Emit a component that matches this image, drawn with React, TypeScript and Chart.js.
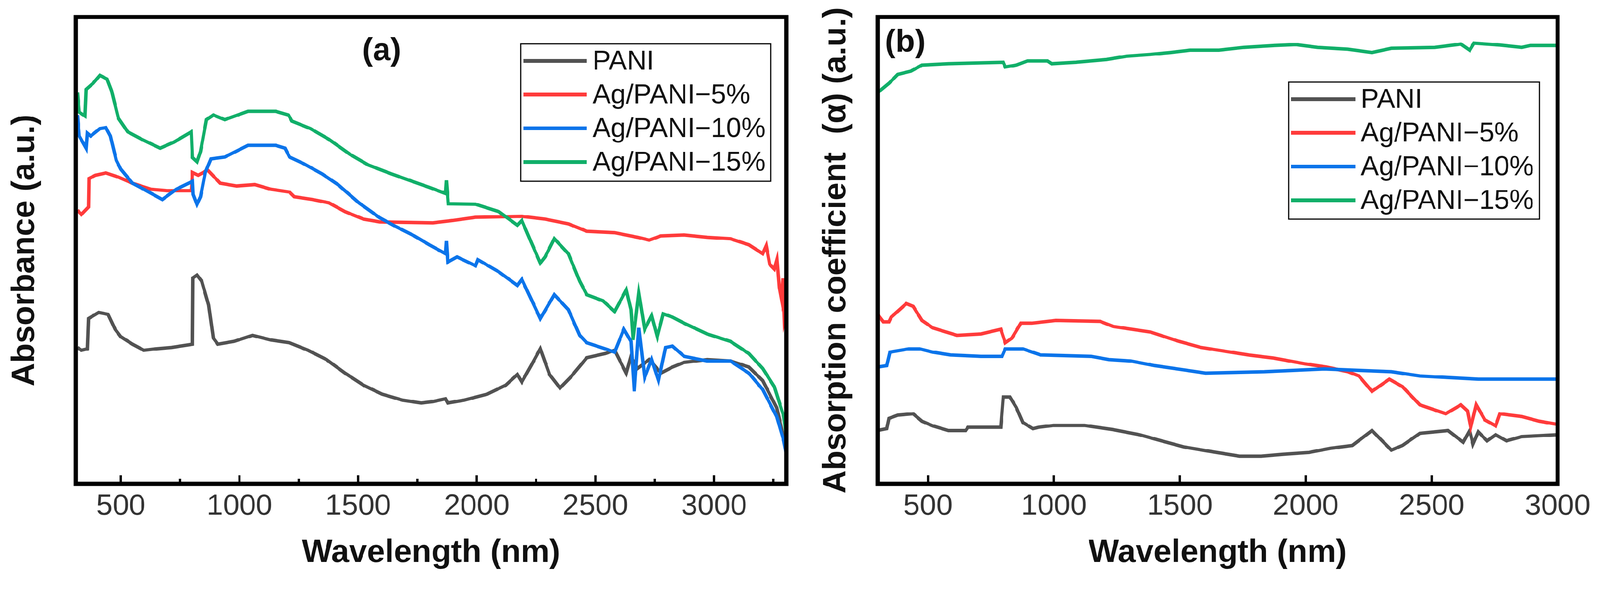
import { useEffect, useRef } from "react";
import { Chart, registerables } from "chart.js";

Chart.register(...registerables);

const PAGE_W = 4226;
const PAGE_H = 1539;

const SERIES_LABELS = ["PANI", "Ag/PANI\u22125%", "Ag/PANI\u221210%", "Ag/PANI\u221215%"];
const SERIES_COLORS = ["#525252", "#FF3B3B", "#0B74EA", "#11AF69"];

// ---- panel (a): absorbance ----
const A_PANI_X = [317, 334, 359, 364, 407, 446, 476, 500, 549, 597, 646, 714, 802, 804, 821, 841, 870, 890, 909, 977, 1055, 1133, 1211, 1289, 1367, 1445, 1523, 1601, 1688, 1766, 1815, 1868, 1878, 1946, 2044, 2122, 2171, 2190, 2229, 2268, 2307, 2351, 2395, 2464, 2542, 2581, 2630, 2650, 2678, 2727, 2776, 2825, 2874, 2971, 3069, 3147, 3205, 3264, 3294, 3305];
const A_PANI_Y = [29.2, 28.6, 28.9, 35.4, 36.7, 36.3, 33.1, 31.5, 29.9, 28.6, 28.9, 29.2, 29.9, 44.1, 44.7, 43.4, 38.3, 31.2, 29.9, 30.5, 31.8, 30.8, 30.2, 28.6, 26.6, 23.7, 21.1, 19.2, 17.9, 17.3, 17.6, 18.2, 17.3, 17.9, 19.2, 21.1, 23.4, 21.8, 25.3, 28.9, 23.4, 20.5, 22.8, 27.0, 27.9, 28.6, 23.7, 27.3, 24.7, 26.6, 23.7, 25.0, 26.0, 26.6, 26.3, 25.0, 22.1, 16.3, 10.0, 8.0];

const A_AG5_X = [317, 334, 364, 366, 393, 437, 490, 549, 627, 695, 797, 802, 826, 866, 919, 988, 1065, 1133, 1211, 1231, 1308, 1377, 1445, 1523, 1591, 1815, 1898, 1995, 2190, 2288, 2386, 2464, 2581, 2678, 2727, 2776, 2874, 2971, 3069, 3147, 3205, 3220, 3235, 3254, 3265, 3275, 3284, 3290, 3297, 3303, 3305];
const A_AG5_Y = [58.6, 57.7, 59.3, 65.4, 66.1, 66.6, 65.7, 64.4, 63.1, 62.8, 62.8, 66.7, 66.1, 67.2, 64.4, 63.8, 64.1, 63.1, 62.5, 61.5, 60.9, 60.2, 58.3, 56.7, 56.1, 55.9, 56.4, 57.1, 57.3, 56.7, 55.7, 54.1, 53.8, 52.8, 52.2, 53.1, 53.3, 52.8, 52.5, 51.2, 49.3, 51.0, 47.0, 46.0, 48.0, 42.0, 39.6, 44.0, 35.0, 36.3, 38.0];

const A_AG10_X = [317, 325, 354, 359, 373, 412, 437, 456, 481, 500, 549, 597, 675, 734, 802, 805, 821, 836, 856, 880, 938, 1036, 1153, 1192, 1211, 1270, 1348, 1415, 1503, 1591, 1659, 1737, 1800, 1868, 1872, 1878, 1917, 1995, 2005, 2093, 2171, 2190, 2229, 2268, 2327, 2386, 2434, 2464, 2542, 2581, 2620, 2650, 2664, 2683, 2708, 2737, 2766, 2796, 2825, 2874, 2971, 3069, 3147, 3205, 3264, 3294, 3305];
const A_AG10_Y = [79.0, 74.5, 71.9, 75.1, 74.5, 76.1, 76.3, 74.5, 69.3, 67.4, 64.4, 63.1, 60.9, 63.1, 64.8, 62.0, 59.9, 61.5, 66.7, 69.6, 70.0, 72.5, 72.5, 71.9, 70.0, 68.6, 66.4, 64.1, 60.2, 57.0, 55.1, 53.1, 51.2, 49.3, 52.0, 47.5, 48.6, 46.7, 48.0, 45.4, 42.5, 43.8, 39.6, 35.4, 40.5, 37.3, 31.8, 30.2, 28.9, 28.2, 33.1, 30.5, 19.8, 33.4, 22.8, 26.6, 22.1, 29.2, 29.5, 27.3, 26.3, 26.3, 23.7, 20.2, 14.4, 9.2, 6.5];

const A_AG15_X = [317, 325, 349, 354, 383, 412, 442, 461, 490, 529, 588, 666, 724, 797, 802, 821, 836, 861, 890, 938, 1036, 1153, 1207, 1221, 1299, 1377, 1465, 1543, 1640, 1728, 1800, 1868, 1872, 1880, 1995, 2093, 2171, 2190, 2229, 2268, 2288, 2327, 2386, 2434, 2464, 2532, 2581, 2630, 2650, 2659, 2683, 2708, 2737, 2761, 2786, 2825, 2874, 2971, 3069, 3147, 3205, 3254, 3294, 3305];
const A_AG15_Y = [83.8, 79.6, 78.8, 84.5, 85.8, 87.5, 86.7, 84.2, 78.3, 75.4, 73.8, 71.9, 73.2, 75.4, 69.9, 69.0, 71.2, 78.0, 79.0, 78.0, 79.8, 79.8, 79.0, 77.7, 76.1, 73.8, 70.6, 68.3, 66.4, 64.8, 63.5, 62.2, 65.0, 60.0, 59.9, 58.3, 55.4, 56.4, 51.8, 47.3, 48.6, 52.5, 49.3, 43.4, 40.5, 39.2, 36.9, 41.5, 37.3, 30.8, 40.8, 33.1, 36.0, 31.5, 36.4, 35.7, 34.4, 32.1, 30.5, 27.9, 24.7, 20.8, 14.4, 10.5];

// ---- panel (b): absorption coefficient ----
const B_PANI_X = [300, 336, 345, 380, 441, 476, 519, 581, 650, 659, 789, 799, 825, 851, 877, 917, 938, 999, 1121, 1235, 1340, 1427, 1515, 1602, 1737, 1823, 1909, 2013, 2099, 2185, 2263, 2340, 2384, 2453, 2565, 2625, 2651, 2664, 2685, 2720, 2754, 2797, 2858, 3000];
const B_PANI_Y = [11.4, 11.8, 14.0, 14.7, 15.0, 13.4, 12.4, 11.4, 11.4, 12.1, 12.1, 18.6, 18.6, 16.3, 13.1, 11.8, 12.1, 12.5, 12.5, 11.6, 10.5, 9.2, 7.9, 7.1, 5.9, 5.9, 6.3, 6.7, 7.6, 8.2, 11.4, 7.2, 8.2, 10.8, 11.4, 8.9, 11.4, 8.5, 11.1, 9.2, 10.5, 9.2, 10.1, 10.5];

const B_AG5_X = [300, 323, 345, 354, 414, 441, 476, 519, 554, 615, 711, 789, 807, 833, 869, 912, 1008, 1183, 1235, 1384, 1497, 1584, 1655, 1772, 1875, 1996, 2082, 2168, 2211, 2263, 2332, 2384, 2453, 2556, 2616, 2642, 2655, 2677, 2711, 2754, 2771, 2858, 2927, 3000];
const B_AG5_Y = [36.3, 34.7, 34.7, 35.7, 38.6, 38.0, 35.0, 33.4, 32.8, 31.8, 32.1, 33.1, 30.2, 31.2, 34.4, 34.4, 35.0, 34.8, 33.7, 32.5, 30.5, 29.2, 28.6, 27.6, 26.9, 25.7, 25.0, 24.0, 23.1, 19.8, 22.4, 20.8, 16.9, 15.0, 16.9, 15.6, 12.1, 16.9, 13.7, 12.4, 15.0, 14.4, 13.4, 12.7];

const B_AG10_X = [300, 336, 349, 424, 467, 519, 589, 711, 794, 807, 877, 947, 1148, 1218, 1305, 1401, 1515, 1602, 1836, 2073, 2340, 2453, 2685, 3000];
const B_AG10_Y = [25.0, 25.3, 28.2, 28.9, 28.9, 28.2, 27.6, 27.3, 27.3, 28.9, 28.9, 27.6, 27.3, 26.6, 26.3, 25.3, 24.4, 23.7, 24.0, 24.6, 24.0, 23.1, 22.4, 22.4];

const B_AG15_X = [300, 345, 380, 432, 476, 581, 799, 807, 851, 895, 974, 991, 1087, 1209, 1288, 1384, 1462, 1541, 1655, 1754, 1875, 1961, 2047, 2168, 2263, 2340, 2513, 2616, 2651, 2668, 2771, 2858, 2892, 3000];
const B_AG15_Y = [83.8, 85.8, 87.7, 88.4, 89.7, 90.0, 90.3, 89.3, 89.7, 90.6, 90.6, 90.0, 90.3, 90.9, 91.6, 92.0, 92.4, 92.9, 92.9, 93.5, 93.9, 94.1, 93.5, 93.1, 92.4, 93.3, 93.5, 94.2, 92.9, 94.4, 94.0, 93.5, 93.9, 93.9];

const A_MAJOR_TICKS = [500, 1000, 1500, 2000, 2500, 3000];
const A_MINOR_TICKS = [750, 1250, 1750, 2250, 2750, 3250];
const B_MAJOR_TICKS = [500, 1000, 1500, 2000, 2500, 3000];
const B_MINOR_TICKS: number[] = [];

const FONT = "'Liberation Sans', Arial, sans-serif";

interface Panel {
  left: number;
  width: number;
  plotLeft: number;
  plotRight: number;
  xMin: number;
  xMax: number;
  major: number[];
  minor: number[];
  xs: number[][];
  ys: number[][];
  yTitle: string;
  yTitlePad: number;
  tag: string;
  tagX: number;
  tagY: number;
  legend: { x: number; y: number; w: number; h: number; row0: number; step: number; l0: number; l1: number; tx: number };
}

const PLOT_TOP = 45;
const PLOT_BOTTOM = 1278;

const PANELS: Panel[] = [
  {
    left: 0, width: 2130, plotLeft: 200, plotRight: 2077,
    xMin: 310, xMax: 3305,
    major: A_MAJOR_TICKS, minor: A_MINOR_TICKS,
    xs: [A_PANI_X, A_AG5_X, A_AG10_X, A_AG15_X],
    ys: [A_PANI_Y, A_AG5_Y, A_AG10_Y, A_AG15_Y],
    yTitle: "Absorbance (a.u.)", yTitlePad: 16,
    tag: "(a)", tagX: 1008, tagY: 136,
    legend: { x: 1375, y: 116, w: 661, h: 363, row0: 161, step: 89, l0: 1383, l1: 1550, tx: 1565 },
  },
  {
    left: 2130, width: 2096, plotLeft: 188, plotRight: 1984,
    xMin: 300, xMax: 3000,
    major: B_MAJOR_TICKS, minor: B_MINOR_TICKS,
    xs: [B_PANI_X, B_AG5_X, B_AG10_X, B_AG15_X],
    ys: [B_PANI_Y, B_AG5_Y, B_AG10_Y, B_AG15_Y],
    yTitle: "Absorption coefficient  (\u03b1) (a.u.)", yTitlePad: 29,
    tag: "(b)", tagX: 261, tagY: 114,
    legend: { x: 1274, y: 217, w: 662, h: 362, row0: 262, step: 89, l0: 1280, l1: 1450, tx: 1464 },
  },
];

const decor = {
  id: "decor",
  afterDatasetsDraw(chart: any, _args: any, o: any) {
    const { ctx, chartArea: a, scales } = chart;
    const x = scales.x;
    ctx.save();
    ctx.strokeStyle = "#000";
    ctx.lineWidth = 11;
    ctx.strokeRect(a.left, a.top, a.right - a.left, a.bottom - a.top);

    ctx.lineWidth = 6;
    ctx.beginPath();
    o.major.forEach((v: number) => {
      const px = x.getPixelForValue(v);
      ctx.moveTo(px, a.bottom);
      ctx.lineTo(px, a.bottom - 22);
    });
    o.minor.forEach((v: number) => {
      const px = x.getPixelForValue(v);
      ctx.moveTo(px, a.bottom);
      ctx.lineTo(px, a.bottom - 13);
    });
    ctx.stroke();

    ctx.fillStyle = "#111";
    ctx.font = `bold 84px ${FONT}`;
    ctx.textAlign = "center";
    ctx.textBaseline = "middle";
    ctx.fillText(o.tag, o.tagX, o.tagY);

    const L = o.legend;
    ctx.lineWidth = 3;
    ctx.strokeRect(L.x, L.y, L.w, L.h);
    ctx.font = `72px ${FONT}`;
    ctx.textAlign = "left";
    chart.data.datasets.forEach((ds: any, i: number) => {
      const yy = L.row0 + i * L.step;
      ctx.strokeStyle = ds.borderColor;
      ctx.lineWidth = 10;
      ctx.beginPath();
      ctx.moveTo(L.l0, yy);
      ctx.lineTo(L.l1, yy);
      ctx.stroke();
      ctx.fillStyle = "#111";
      ctx.fillText(ds.label, L.tx, yy + 3);
    });
    ctx.restore();
  },
};

function PanelChart({ p }: { p: Panel }) {
  const ref = useRef<HTMLCanvasElement>(null);

  useEffect(() => {
    if (!ref.current) return;
    const datasets = SERIES_LABELS.map((label, i) => ({
      label,
      data: p.xs[i].map((xv, j) => ({ x: xv, y: p.ys[i][j] })),
      borderColor: SERIES_COLORS[i],
      backgroundColor: SERIES_COLORS[i],
      borderWidth: 9,
      pointRadius: 0,
      tension: 0,
      fill: false,
      order: 4 - i,
    }));

    const chart = new Chart(ref.current, {
      type: "line",
      data: { datasets },
      plugins: [decor],
      options: {
        animation: false,
        responsive: false,
        devicePixelRatio: 1,
        layout: { padding: { top: PLOT_TOP, right: p.width - p.plotRight, left: 0, bottom: 0 } },
        scales: {
          x: {
            type: "linear",
            min: p.xMin,
            max: p.xMax,
            grid: { display: false },
            border: { display: false },
            afterBuildTicks: (s: any) => { s.ticks = p.major.map(v => ({ value: v })); },
            afterFit: (s: any) => { s.height = PAGE_H - PLOT_BOTTOM; },
            ticks: {
              autoSkip: false,
              maxRotation: 0,
              padding: 6,
              color: "#333",
              font: { family: FONT, size: 78 },
              callback: (v: any) => String(v),
            },
            title: {
              display: true,
              text: "Wavelength (nm)",
              color: "#111",
              font: { family: FONT, size: 85, weight: "bold" },
              padding: { top: 0, bottom: 26 },
            },
          },
          y: {
            type: "linear",
            min: 0,
            max: 100,
            grid: { display: false },
            border: { display: false },
            ticks: { display: false },
            afterFit: (s: any) => { s.width = p.plotLeft; },
            title: {
              display: true,
              text: p.yTitle,
              color: "#111",
              font: { family: FONT, size: 85, weight: "bold" },
              padding: { top: p.yTitlePad, bottom: 0 },
            },
          },
        },
        plugins: {
          legend: { display: false },
          tooltip: { enabled: false },
          decor: { major: p.major, minor: p.minor, tag: p.tag, tagX: p.tagX, tagY: p.tagY, legend: p.legend },
        } as any,
      },
    });
    return () => chart.destroy();
  }, [p]);

  return (
    <canvas
      ref={ref}
      width={p.width}
      height={PAGE_H}
      style={{ position: "absolute", left: p.left, top: 0, width: p.width, height: PAGE_H }}
    />
  );
}

export default function App() {
  // fit the 4226x1539 layout into whatever CSS viewport the page really has
  const scale = typeof window !== "undefined" && window.innerWidth ? window.innerWidth / PAGE_W : 1;
  return (
    <div
      style={{
        position: "absolute",
        left: 0,
        top: 0,
        width: PAGE_W,
        height: PAGE_H,
        background: "#fff",
        transform: `scale(${scale})`,
        transformOrigin: "0 0",
      }}
    >
      {PANELS.map((p, i) => (
        <PanelChart key={i} p={p} />
      ))}
    </div>
  );
}
